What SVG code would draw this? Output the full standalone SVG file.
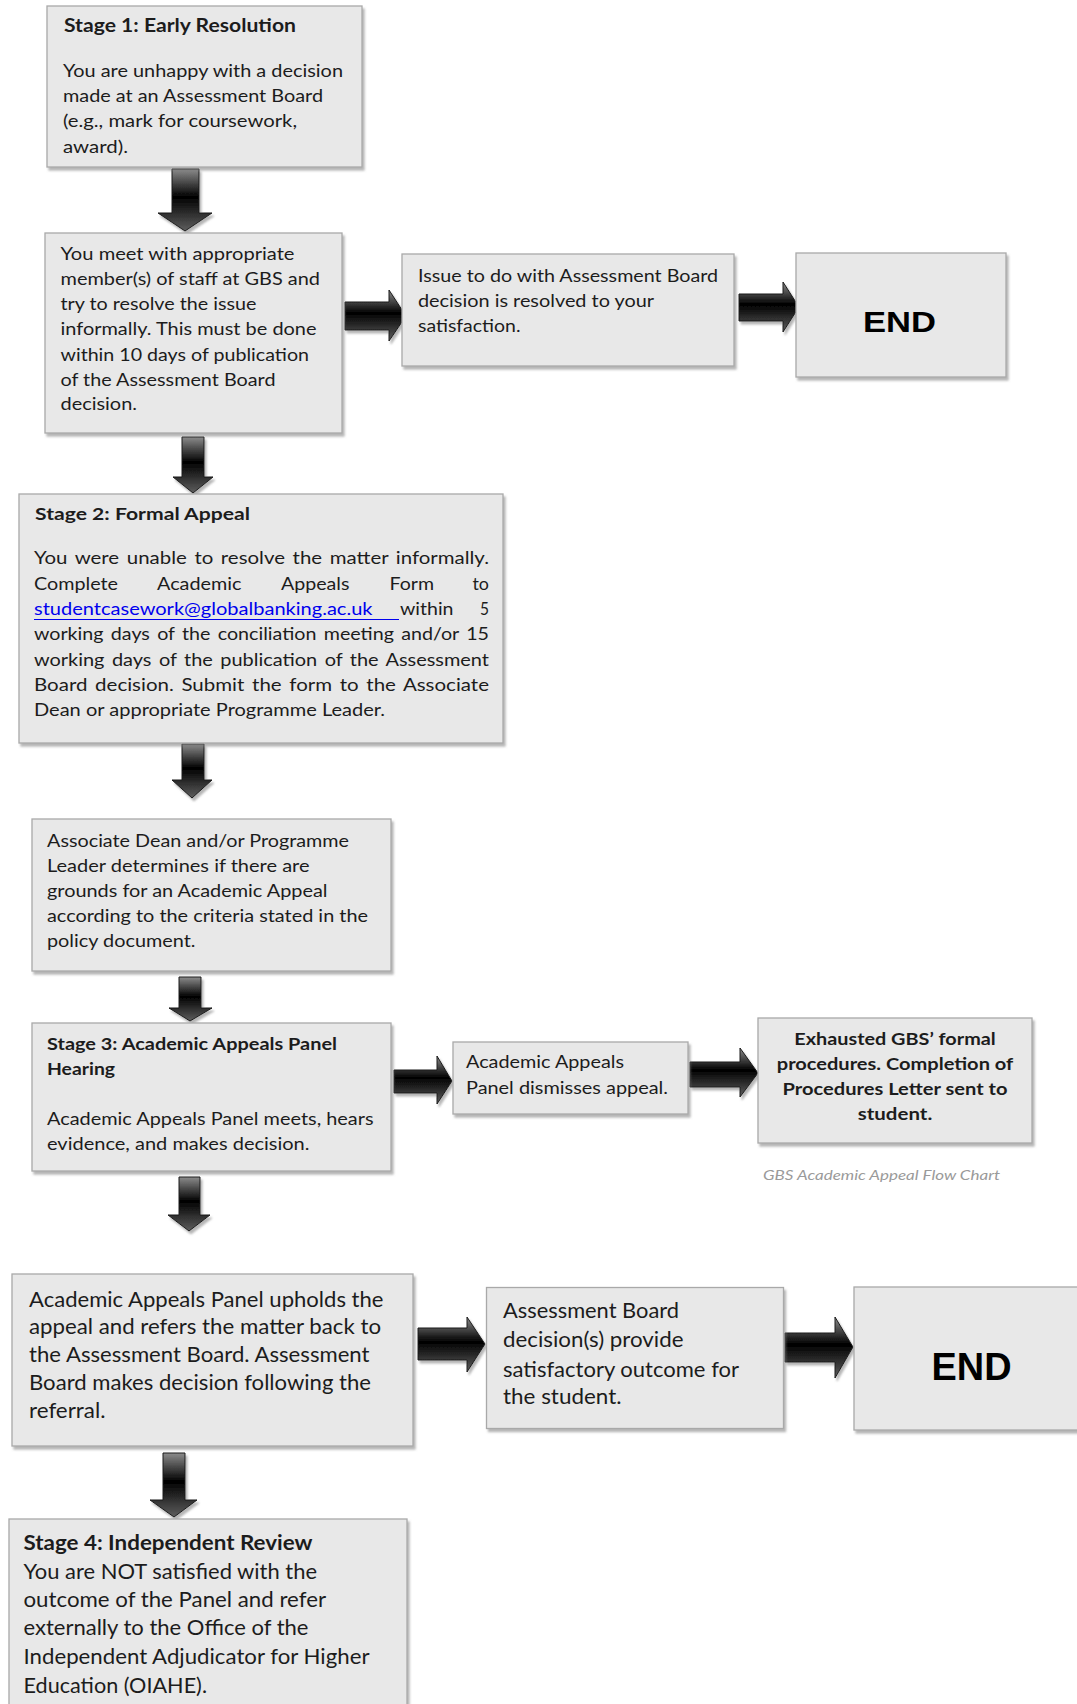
<svg xmlns="http://www.w3.org/2000/svg" width="1077" height="1704" viewBox="0 0 1077 1704">
<defs>
<filter id="sh" x="-5%" y="-5%" width="115%" height="120%">
<feDropShadow dx="2" dy="3" stdDeviation="1.2" flood-color="#7a7a7a" flood-opacity="0.55"/>
</filter>
<linearGradient id="ag" x1="0" y1="0" x2="0" y2="1">
<stop offset="0" stop-color="#8c8c8c"/>
<stop offset="0.45" stop-color="#000000"/>
<stop offset="1" stop-color="#5e5e5e"/>
</linearGradient>
<style>
.box{fill:#e8e8e8;stroke:#a9a9a9;stroke-width:1.3;filter:url(#sh)}
.t{font-family:Lato,"Open Sans","Liberation Sans",sans-serif;fill:#1c1c1c}
.s18{font-size:18px}
.s17{font-size:17px}
.s20{font-size:20.5px}
.b{font-weight:bold}
.j{word-spacing:2px}
.arr{fill:url(#ag);stroke:#1a1a1a;stroke-width:1;filter:url(#sh)}
.end{font-family:"Liberation Sans",Arial,sans-serif;font-weight:bold;fill:#000}
.cap{font-family:Lato,"Open Sans","Liberation Sans",sans-serif;font-style:italic;font-size:14px;fill:#9a9a9a}
</style>
</defs>
<rect width="1077" height="1704" fill="#ffffff"/>

<g id="connectors">
<path class="arr" d="M172 169 H199 V213 H212 L185 231 L158 213 H172 Z"/>
<path class="arr" d="M345 302 H389 V290 L406 316 L389 341 V330 H345 Z"/>
<path class="arr" d="M739 294 H783 V282 L799 307 L783 332 V321 H739 Z"/>
<path class="arr" d="M182 437 H204 V477 H213 L193 493 L173 477 H182 Z"/>
<path class="arr" d="M182 744 H204 V780 H212 L192 798 L172 780 H182 Z"/>
<path class="arr" d="M179 977 H201 V1008 H212 L190 1021 L169 1008 H179 Z"/>
<path class="arr" d="M394 1070 H437 V1056 L452 1081 L437 1104 V1093 H394 Z"/>
<path class="arr" d="M690 1062 H740 V1048 L758 1073 L740 1097 V1087 H690 Z"/>
<path class="arr" d="M179 1177 H200 V1215 H210 L189 1231 L168 1215 H179 Z"/>
<path class="arr" d="M418 1328 H467 V1317 L485 1344 L467 1372 V1360 H418 Z"/>
<path class="arr" d="M785 1333 H835 V1317 L853 1347 L835 1378 V1362 H785 Z"/>
<path class="arr" d="M163 1453 H185 V1500 H197 L174 1517 L150 1500 H163 Z"/>
</g>

<g id="stage1">
<rect class="box" x="47" y="6" width="315" height="161"/>
<text class="t s18 b" x="64" y="31.5" textLength="232" lengthAdjust="spacingAndGlyphs">Stage 1: Early Resolution</text>
<text class="t s18" x="63" y="77" textLength="280" lengthAdjust="spacingAndGlyphs">You are unhappy with a decision</text>
<text class="t s18" x="63" y="102" textLength="260" lengthAdjust="spacingAndGlyphs">made at an Assessment Board</text>
<text class="t s18" x="63" y="127" textLength="234" lengthAdjust="spacingAndGlyphs">(e.g., mark for coursework,</text>
<text class="t s18" x="63" y="153" textLength="65" lengthAdjust="spacingAndGlyphs">award).</text>
</g>

<g id="meet">
<rect class="box" x="45" y="233" width="297" height="200"/>
<text class="t s18" x="60.5" y="259.5" textLength="234" lengthAdjust="spacingAndGlyphs">You meet with appropriate</text>
<text class="t s18" x="60.5" y="285" textLength="259.5" lengthAdjust="spacingAndGlyphs">member(s) of staff at GBS and</text>
<text class="t s18" x="60.5" y="310" textLength="196" lengthAdjust="spacingAndGlyphs">try to resolve the issue</text>
<text class="t s18" x="60.5" y="335" textLength="256" lengthAdjust="spacingAndGlyphs">informally. This must be done</text>
<text class="t s18" x="60.5" y="360.5" textLength="248.5" lengthAdjust="spacingAndGlyphs">within 10 days of publication</text>
<text class="t s18" x="60.5" y="385.5" textLength="215" lengthAdjust="spacingAndGlyphs">of the Assessment Board</text>
<text class="t s18" x="60.5" y="410" textLength="76.5" lengthAdjust="spacingAndGlyphs">decision.</text>
</g>

<g id="resolved">
<rect class="box" x="402" y="254" width="332" height="112"/>
<text class="t s17" x="418" y="282" textLength="300" lengthAdjust="spacingAndGlyphs">Issue to do with Assessment Board</text>
<text class="t s17" x="418" y="307" textLength="236" lengthAdjust="spacingAndGlyphs">decision is resolved to your</text>
<text class="t s17" x="418" y="332" textLength="102.5" lengthAdjust="spacingAndGlyphs">satisfaction.</text>
</g>

<g id="end1">
<rect class="box" x="796" y="253" width="210" height="124"/>
<text class="end" x="863" y="332" font-size="30" textLength="73" lengthAdjust="spacingAndGlyphs">END</text>
</g>

<g id="stage2">
<rect class="box" x="19" y="494" width="484" height="249"/>
<text class="t s17 b" x="35" y="519.5" textLength="215" lengthAdjust="spacingAndGlyphs">Stage 2: Formal Appeal</text>
<text class="t s17 j" x="34" y="564" textLength="455" lengthAdjust="spacingAndGlyphs">You were unable to resolve the matter informally.</text>
<text class="t s17" y="589.5"><tspan x="34" textLength="84" lengthAdjust="spacingAndGlyphs">Complete</tspan><tspan x="157" textLength="84.5" lengthAdjust="spacingAndGlyphs">Academic</tspan><tspan x="281" textLength="68.5" lengthAdjust="spacingAndGlyphs">Appeals</tspan><tspan x="389.5" textLength="44.5" lengthAdjust="spacingAndGlyphs">Form</tspan><tspan x="472.5" textLength="16.5" lengthAdjust="spacingAndGlyphs">to</tspan></text>
<text class="t s17" y="614.5"><tspan x="34" fill="#0000ee" textLength="338.5" lengthAdjust="spacingAndGlyphs">studentcasework@globalbanking.ac.uk</tspan><tspan x="400" textLength="53.5" lengthAdjust="spacingAndGlyphs">within</tspan><tspan x="480" textLength="9" lengthAdjust="spacingAndGlyphs">5</tspan></text>
<line x1="34" y1="619.5" x2="399" y2="619.5" stroke="#0000ee" stroke-width="1.2"/>
<text class="t s17 j" x="34" y="640" textLength="455" lengthAdjust="spacingAndGlyphs">working days of the conciliation meeting and/or 15</text>
<text class="t s17 j" x="34" y="665.5" textLength="455" lengthAdjust="spacingAndGlyphs">working days of the publication of the Assessment</text>
<text class="t s17 j" x="34" y="690.5" textLength="455" lengthAdjust="spacingAndGlyphs">Board decision. Submit the form to the Associate</text>
<text class="t s17" x="34" y="715.5" textLength="351" lengthAdjust="spacingAndGlyphs">Dean or appropriate Programme Leader.</text>
</g>

<g id="grounds">
<rect class="box" x="32" y="819" width="359" height="152"/>
<text class="t s17" x="47" y="846.5" textLength="302" lengthAdjust="spacingAndGlyphs">Associate Dean and/or Programme</text>
<text class="t s17" x="47" y="871.5" textLength="262.5" lengthAdjust="spacingAndGlyphs">Leader determines if there are</text>
<text class="t s17" x="47" y="896.5" textLength="280.5" lengthAdjust="spacingAndGlyphs">grounds for an Academic Appeal</text>
<text class="t s17" x="47" y="921.5" textLength="321" lengthAdjust="spacingAndGlyphs">according to the criteria stated in the</text>
<text class="t s17" x="47" y="946.5" textLength="148.5" lengthAdjust="spacingAndGlyphs">policy document.</text>
</g>

<g id="stage3">
<rect class="box" x="32" y="1023" width="359" height="148"/>
<text class="t s17 b" x="47" y="1050" textLength="290" lengthAdjust="spacingAndGlyphs">Stage 3: Academic Appeals Panel</text>
<text class="t s17 b" x="47" y="1075" textLength="68" lengthAdjust="spacingAndGlyphs">Hearing</text>
<text class="t s17" x="47" y="1125" textLength="326.5" lengthAdjust="spacingAndGlyphs">Academic Appeals Panel meets, hears</text>
<text class="t s17" x="47" y="1150" textLength="262.5" lengthAdjust="spacingAndGlyphs">evidence, and makes decision.</text>
</g>

<g id="dismiss">
<rect class="box" x="453" y="1042" width="235" height="72"/>
<text class="t s17" x="466" y="1068" textLength="158" lengthAdjust="spacingAndGlyphs">Academic Appeals</text>
<text class="t s17" x="466" y="1094" textLength="202" lengthAdjust="spacingAndGlyphs">Panel dismisses appeal.</text>
</g>

<g id="exhausted">
<rect class="box" x="758" y="1018" width="274" height="125"/>
<text class="t s17 b" x="895" y="1045" text-anchor="middle" textLength="201.5" lengthAdjust="spacingAndGlyphs">Exhausted GBS’ formal</text>
<text class="t s17 b" x="895" y="1070" text-anchor="middle" textLength="236.5" lengthAdjust="spacingAndGlyphs">procedures. Completion of</text>
<text class="t s17 b" x="895" y="1095" text-anchor="middle" textLength="225" lengthAdjust="spacingAndGlyphs">Procedures Letter sent to</text>
<text class="t s17 b" x="895" y="1119.5" text-anchor="middle" textLength="74.5" lengthAdjust="spacingAndGlyphs">student.</text>
</g>

<text id="caption" class="cap" x="763" y="1180" textLength="237" lengthAdjust="spacingAndGlyphs">GBS Academic Appeal Flow Chart</text>

<g id="uphold">
<rect class="box" x="12" y="1274" width="401" height="172"/>
<text class="t s20" x="29" y="1306.5" textLength="354.5" lengthAdjust="spacingAndGlyphs">Academic Appeals Panel upholds the</text>
<text class="t s20" x="29" y="1334" textLength="352" lengthAdjust="spacingAndGlyphs">appeal and refers the matter back to</text>
<text class="t s20" x="29" y="1362" textLength="340.5" lengthAdjust="spacingAndGlyphs">the Assessment Board. Assessment</text>
<text class="t s20" x="29" y="1390" textLength="342" lengthAdjust="spacingAndGlyphs">Board makes decision following the</text>
<text class="t s20" x="29" y="1418" textLength="76.5" lengthAdjust="spacingAndGlyphs">referral.</text>
</g>

<g id="satisfactory">
<rect class="box" x="486.5" y="1287.5" width="297" height="141"/>
<text class="t s20" x="503" y="1317.5" textLength="176" lengthAdjust="spacingAndGlyphs">Assessment Board</text>
<text class="t s20" x="503" y="1346.5" textLength="180.5" lengthAdjust="spacingAndGlyphs">decision(s) provide</text>
<text class="t s20" x="503" y="1376.5" textLength="236" lengthAdjust="spacingAndGlyphs">satisfactory outcome for</text>
<text class="t s20" x="503" y="1404" textLength="118.5" lengthAdjust="spacingAndGlyphs">the student.</text>
</g>

<g id="end2">
<rect class="box" x="854" y="1287" width="240" height="143"/>
<text class="end" x="931.5" y="1379.5" font-size="38.5" textLength="80" lengthAdjust="spacingAndGlyphs">END</text>
</g>

<g id="stage4">
<rect class="box" x="9" y="1519" width="398" height="200"/>
<text class="t s20 b" x="23.5" y="1550" textLength="289" lengthAdjust="spacingAndGlyphs">Stage 4: Independent Review</text>
<text class="t s20" x="23.5" y="1578.5" textLength="293.5" lengthAdjust="spacingAndGlyphs">You are NOT satisfied with the</text>
<text class="t s20" x="23.5" y="1607" textLength="302.5" lengthAdjust="spacingAndGlyphs">outcome of the Panel and refer</text>
<text class="t s20" x="23.5" y="1635" textLength="285" lengthAdjust="spacingAndGlyphs">externally to the Office of the</text>
<text class="t s20" x="23.5" y="1664" textLength="346" lengthAdjust="spacingAndGlyphs">Independent Adjudicator for Higher</text>
<text class="t s20" x="23.5" y="1692.5" textLength="183.5" lengthAdjust="spacingAndGlyphs">Education (OIAHE).</text>
</g>
</svg>
